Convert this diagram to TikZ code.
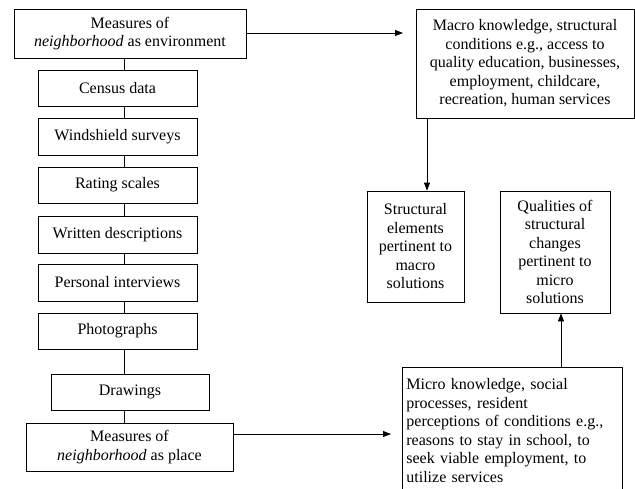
\documentclass[tikz,border=0pt]{standalone}
\usepackage{fontspec}
\setmainfont{Liberation Serif}
\usetikzlibrary{arrows.meta}
\begin{document}
\begin{tikzpicture}[x=1pt,y=-1pt,
  every node/.style={font=\fontsize{16}{18.5}\selectfont},
  box/.style={draw, line width=0.8pt, inner sep=0pt, align=center},
  conn/.style={line width=0.8pt},
  arr/.style={line width=0.8pt, -{Triangle[length=8pt,width=6pt]}}]
\useasboundingbox (0,0) rectangle (635,488);
\clip (0,0) rectangle (635,488);
% left column
\node[box, minimum width=232pt, minimum height=49pt] (env) at (130,33.5) {Measures of\\\textit{neighborhood} as environment};
\node[box, minimum width=159pt, minimum height=36pt] (census) at (117.5,88) {Census data};
\node[box, minimum width=159pt, minimum height=37pt] (wind) at (117.5,136.5) {Windshield surveys};
\node[box, minimum width=159pt, minimum height=36pt] (rating) at (117.5,185) {Rating scales};
\node[box, minimum width=159pt, minimum height=37pt] (written) at (117.5,234.5) {Written descriptions};
\node[box, minimum width=159pt, minimum height=37pt] (personal) at (117.5,282.5) {Personal interviews};
\node[box, minimum width=159pt, minimum height=36pt] (photo) at (117.5,331) {Photographs};
\node[box, minimum width=158pt, minimum height=36pt] (draw) at (130,392) {Drawings};
\node[box, minimum width=207pt, minimum height=48pt] (place) at (129.5,447) {Measures of\\\textit{neighborhood} as place};
\coordinate (spine) at (124,0);
\draw[conn] (env.south -| spine) -- (census.north -| spine);
\draw[conn] (census.south -| spine) -- (wind.north -| spine);
\draw[conn] (wind.south -| spine) -- (rating.north -| spine);
\draw[conn] (rating.south -| spine) -- (written.north -| spine);
\draw[conn] (written.south -| spine) -- (personal.north -| spine);
\draw[conn] (personal.south -| spine) -- (photo.north -| spine);
\draw[conn] (photo.south -| spine) -- (draw.north -| spine);
\draw[conn] (draw.south -| spine) -- (place.north -| spine);
% right side
\node[box, minimum width=218pt, minimum height=109pt] (macro) at (525,63.5) {Macro knowledge, structural\\conditions e.g., access to\\quality education, businesses,\\employment, childcare,\\recreation, human services};
\node[box, minimum width=97pt, minimum height=111pt] (struct) at (415.5,246.5) {Structural\\elements\\pertinent to\\macro\\solutions};
\node[box, minimum width=110pt, minimum height=122pt] (qual) at (555,252) {Qualities of\\structural\\changes\\pertinent to\\micro\\solutions};
\node[box, align=left, anchor=north west, text width=212pt, minimum width=220pt, minimum height=126pt, inner xsep=4pt, inner ysep=0pt] (micro) at (402,367) {Micro knowledge, social\\processes, resident\\perceptions of conditions e.g.,\\reasons to stay in school, to\\seek viable employment, to\\utilize services};
% arrows
\coordinate (a1) at (416,33);
\draw[arr, shorten >=13pt] (env.east |- a1) -- (a1);
\coordinate (a2) at (402,434);
\draw[arr, shorten >=11pt] (place.east |- a2) -- (a2);
\coordinate (a3) at (427,0);
\draw[arr] (macro.south -| a3) -- (struct.north -| a3);
\coordinate (a4) at (561,0);
\draw[arr] (micro.north -| a4) -- (qual.south -| a4);
\end{tikzpicture}
\end{document}
